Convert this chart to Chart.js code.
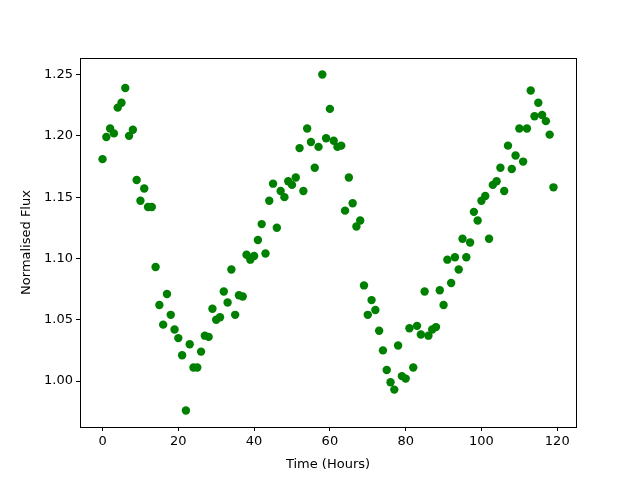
<!DOCTYPE html>
<html>
<head>
<meta charset="utf-8">
<script src="https://cdn.jsdelivr.net/npm/chart.js@4/dist/chart.umd.min.js"></script>
<style>
  html, body { margin: 0; padding: 0; background: #fff; }
  #wrap { width: 640px; height: 480px; }
</style>
</head>
<body>
<div id="wrap"><canvas id="chart" width="640" height="480"></canvas></div>
<script>
// time in hours
const HOURS = [
    0, 1, 2, 3, 4, 5, 6, 7, 8, 9, 10, 11, 12, 13, 14, 15, 16, 17, 18, 19,
    20, 21, 22, 23, 24, 25, 26, 27, 28, 29, 30, 31, 32, 33, 34, 35, 36, 37, 38, 39,
    40, 41, 42, 43, 44, 45, 46, 47, 48, 49, 50, 51, 52, 53, 54, 55, 56, 57, 58, 59,
    60, 61, 62, 63, 64, 65, 66, 67, 68, 69, 70, 71, 72, 73, 74, 75, 76, 77, 78, 79,
    80, 81, 82, 83, 84, 85, 86, 87, 88, 89, 90, 91, 92, 93, 94, 95, 96, 97, 98, 99,
    100, 101, 102, 103, 104, 105, 106, 107, 108, 109, 110, 111, 112, 113, 114, 115, 116, 117, 118, 119
];
// normalised flux
const FLUX = [
    1.181, 1.199, 1.206, 1.202, 1.223, 1.227, 1.239, 1.200, 1.205, 1.164,
    1.147, 1.157, 1.142, 1.142, 1.093, 1.062, 1.046, 1.071, 1.054, 1.042,
    1.035, 1.021, 0.976, 1.030, 1.011, 1.011, 1.024, 1.037, 1.036, 1.059,
    1.050, 1.052, 1.073, 1.064, 1.091, 1.054, 1.070, 1.069, 1.103, 1.099,
    1.102, 1.115, 1.128, 1.104, 1.147, 1.161, 1.125, 1.155, 1.150, 1.163,
    1.160, 1.166, 1.190, 1.155, 1.206, 1.195, 1.174, 1.191, 1.250, 1.198,
    1.222, 1.196, 1.191, 1.192, 1.139, 1.166, 1.145, 1.126, 1.131, 1.078,
    1.054, 1.066, 1.058, 1.041, 1.025, 1.009, 0.999, 0.993, 1.029, 1.004,
    1.002, 1.043, 1.011, 1.045, 1.038, 1.073, 1.037, 1.042, 1.044, 1.074,
    1.062, 1.099, 1.080, 1.101, 1.091, 1.116, 1.101, 1.113, 1.138, 1.131,
    1.147, 1.151, 1.116, 1.160, 1.163, 1.174, 1.155, 1.192, 1.173, 1.184,
    1.206, 1.179, 1.206, 1.237, 1.216, 1.227, 1.217, 1.212, 1.201, 1.158
];
const X_TICKS = [0, 20, 40, 60, 80, 100, 120];
const Y_TICKS = [1.00, 1.05, 1.10, 1.15, 1.20, 1.25];

const FONT = { family: 'DejaVu Sans', size: 13 };

// box around the plot area, like matplotlib's spines
const frame = {
    id: 'frame',
    afterDraw(c) {
        const a = c.chartArea, ctx = c.ctx;
        ctx.save();
        ctx.strokeStyle = '#000';
        ctx.lineWidth = 1;
        ctx.strokeRect(Math.round(a.left) + 0.5, Math.round(a.top) + 0.5,
            Math.round(a.right - a.left), Math.round(a.bottom - a.top));
        ctx.restore();
    }
};

new Chart(document.getElementById('chart'), {
    type: 'scatter',
    data: {
        datasets: [{
            data: HOURS.map((h, i) => ({ x: h, y: FLUX[i] })),
            backgroundColor: '#008000',
            borderColor: '#008000',
            pointRadius: 4.2,
            borderWidth: 0
        }]
    },
    options: {
        responsive: false,
        animation: false,
        layout: { padding: { top: 58, right: 64, left: 0, bottom: 0 } },
        plugins: { legend: { display: false }, tooltip: { enabled: false } },
        scales: {
            x: {
                type: 'linear',
                min: -5.95, max: 124.95,
                afterBuildTicks: ax => { ax.ticks = X_TICKS.map(v => ({ value: v })); },
                afterFit: ax => { ax.height = 53; },
                grid: { drawOnChartArea: false, drawTicks: true, tickLength: 4, color: '#000' },
                border: { display: true, color: '#000' },
                ticks: { color: '#000', font: FONT, padding: 3, maxRotation: 0 },
                title: { display: true, text: 'Time (Hours)', color: '#000', font: FONT, padding: { top: 2, bottom: 8 } }
            },
            y: {
                type: 'linear',
                min: 0.9625, max: 1.2635,
                afterBuildTicks: ax => { ax.ticks = Y_TICKS.map(v => ({ value: v })); },
                afterFit: ax => { ax.width = 80; },
                grid: { drawOnChartArea: false, drawTicks: true, tickLength: 4, color: '#000' },
                border: { display: true, color: '#000' },
                ticks: { color: '#000', font: FONT, padding: 3, callback: v => v.toFixed(2) },
                title: { display: true, text: 'Normalised Flux', color: '#000', font: FONT, padding: { top: 19, bottom: 8 } }
            }
        }
    },
    plugins: [frame]
});
</script>
</body>
</html>
